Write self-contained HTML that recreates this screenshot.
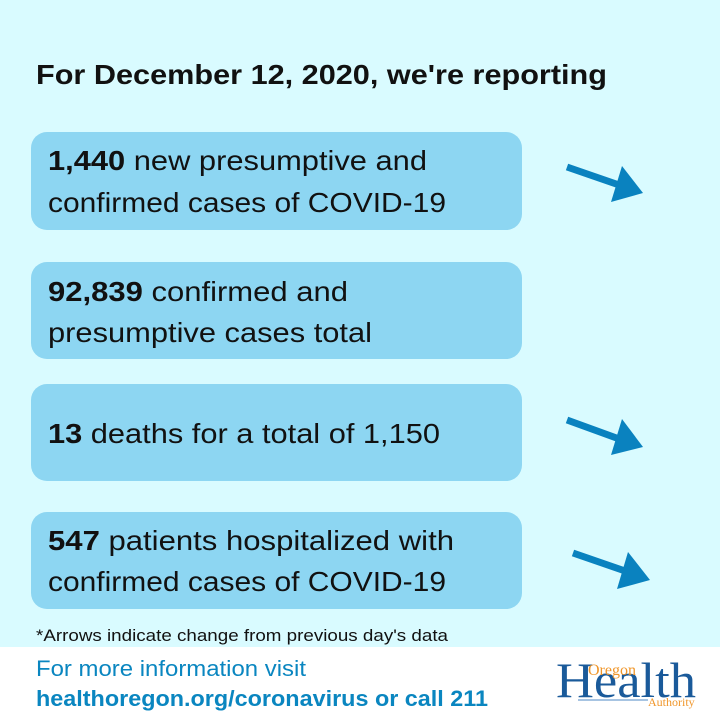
<!DOCTYPE html>
<html><head><meta charset="utf-8"><style>
html,body{margin:0;padding:0;width:720px;height:720px;overflow:hidden;background:#fff}
text{font-family:"Liberation Sans",sans-serif}
</style></head><body>
<svg width="720" height="720" xmlns="http://www.w3.org/2000/svg">
<rect x="0" y="0" width="720" height="647" fill="#d9fbff"/>
<rect x="0" y="647" width="720" height="73" fill="#ffffff"/>
<text x="36" y="84" font-size="28" font-weight="bold" fill="#111" textLength="571" lengthAdjust="spacingAndGlyphs">For December 12, 2020, we're reporting</text>
<g fill="#8dd6f2">
<rect x="31" y="132" width="491" height="98" rx="16"/>
<rect x="31" y="262" width="491" height="97" rx="16"/>
<rect x="31" y="384" width="491" height="97" rx="16"/>
<rect x="31" y="512" width="491" height="97" rx="16"/>
</g>
<g font-size="28" fill="#111">
<text x="48" y="170" textLength="379" lengthAdjust="spacingAndGlyphs"><tspan font-weight="bold">1,440</tspan> new presumptive and</text>
<text x="48" y="212" textLength="398" lengthAdjust="spacingAndGlyphs">confirmed cases of COVID-19</text>
<text x="48" y="301" textLength="300" lengthAdjust="spacingAndGlyphs"><tspan font-weight="bold">92,839</tspan> confirmed and</text>
<text x="48" y="342" textLength="324" lengthAdjust="spacingAndGlyphs">presumptive cases total</text>
<text x="48" y="443" textLength="392" lengthAdjust="spacingAndGlyphs"><tspan font-weight="bold">13</tspan> deaths for a total of 1,150</text>
<text x="48" y="550" textLength="406" lengthAdjust="spacingAndGlyphs"><tspan font-weight="bold">547</tspan> patients hospitalized with</text>
<text x="48" y="591" textLength="398" lengthAdjust="spacingAndGlyphs">confirmed cases of COVID-19</text>
</g>
<g fill="#0a82bf" stroke="#0a82bf">
<line x1="567" y1="167" x2="622" y2="186" stroke-width="7"/>
<polygon points="622,166 643,193 611,202" stroke="none"/>
<line x1="567" y1="420" x2="622" y2="440" stroke-width="7"/>
<polygon points="622,419 643,447 611,455" stroke="none"/>
<line x1="573" y1="553" x2="628" y2="572" stroke-width="7"/>
<polygon points="628,552 650,580 617,589" stroke="none"/>
</g>
<text x="36" y="641" font-size="17" fill="#111" textLength="412" lengthAdjust="spacingAndGlyphs">*Arrows indicate change from previous day's data</text>
<text x="36" y="676" font-size="22" fill="#0a86c0" textLength="270" lengthAdjust="spacingAndGlyphs">For more information visit</text>
<text x="36" y="706" font-size="22" font-weight="bold" fill="#0a86c0" textLength="452" lengthAdjust="spacingAndGlyphs">healthoregon.org/coronavirus or call 211</text>
<text x="556" y="697" font-family="Liberation Serif,serif" font-size="50" fill="#1a5a9a" textLength="140" lengthAdjust="spacingAndGlyphs" style="font-family:'Liberation Serif',serif">Health</text>
<text x="588" y="675" font-size="16" fill="#f0962a" style="font-family:'Liberation Serif',serif">Oregon</text>
<line x1="578" y1="700" x2="648" y2="700" stroke="#8ab0d8" stroke-width="1.5"/>
<text x="648" y="706" font-size="12" fill="#f0962a" style="font-family:'Liberation Serif',serif">Authority</text>
</svg>
</body></html>
